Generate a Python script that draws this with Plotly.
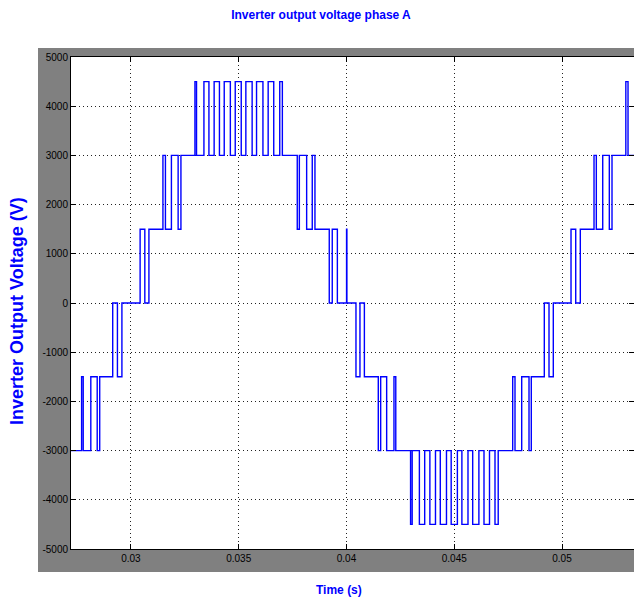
import plotly.graph_objects as go

# ---- data ----
t_start = 0.02722
t_end = 0.05334
initial_level = -3000

switch_times = [
    0.027712, 0.027787, 0.028139, 0.028436, 0.028552,
    0.029155, 0.029374, 0.029582,
    0.030427, 0.030645, 0.030835,
    0.031485, 0.031601, 0.031879, 0.032190, 0.032320,
    0.032970, 0.033044, 0.033387, 0.033619, 0.033861, 0.034107,
    0.034329, 0.034613, 0.034840, 0.035118, 0.035332, 0.035624,
    0.035828, 0.036125, 0.036367, 0.036626, 0.036905, 0.037026,
    0.037717, 0.037814, 0.038153, 0.038413, 0.038538,
    0.039202, 0.039341, 0.039578, 0.040005, 0.040020,
    0.040441, 0.040626, 0.040831,
    0.041476, 0.041587, 0.041865, 0.042204, 0.042288,
    0.042974, 0.043049, 0.043383, 0.043629, 0.043870, 0.044130,
    0.044353, 0.044640, 0.044858, 0.045146, 0.045355, 0.045638,
    0.045856, 0.046144, 0.046381, 0.046636, 0.046891, 0.047040,
    0.047712, 0.047819, 0.048130, 0.048469, 0.048575,
    0.049179, 0.049397, 0.049596,
    0.050418, 0.050636, 0.050849,
    0.051485, 0.051592, 0.051889, 0.052195, 0.052320,
    0.052961, 0.053063,
]
switch_levels = [
    -1500, -3000, -1500, -3000, -1500,
    0, -1500, 0,
    1500, 0, 1500,
    3000, 1500, 3000, 1500, 3000,
    4500, 3000, 4500, 3000, 4500, 3000,
    4500, 3000, 4500, 3000, 4500, 3000,
    4500, 3000, 4500, 3000, 4500, 3000,
    1500, 3000, 1500, 3000, 1500,
    0, 1500, 0, 1500, 0,
    -1500, 0, -1500,
    -3000, -1500, -3000, -1500, -3000,
    -4500, -3000, -4500, -3000, -4500, -3000,
    -4500, -3000, -4500, -3000, -4500, -3000,
    -4500, -3000, -4500, -3000, -4500, -3000,
    -1500, -3000, -1500, -3000, -1500,
    0, -1500, 0,
    1500, 0, 1500,
    3000, 1500, 3000, 1500, 3000,
    4500, 3000,
]

x_tick_vals = [0.03, 0.035, 0.04, 0.045, 0.05]
x_tick_text = ["0.03", "0.035", "0.04", "0.045", "0.05"]
y_tick_vals = [5000, 4000, 3000, 2000, 1000, 0, -1000, -2000, -3000, -4000, -5000]
y_tick_text = ["5000", "4000", "3000", "2000", "1000", "0", "-1000", "-2000", "-3000", "-4000", "-5000"]

title_text = "Inverter output voltage phase A"
x_title = "Time (s)"
y_title = "Inverter Output Voltage (V)"

# ---- figure ----
xs = [t_start] + switch_times + [t_end]
ys = [initial_level] + switch_levels + [switch_levels[-1]]

# page body has an 8px margin; figure coordinates = screen - 8
W, H = 634, 594
L, R, T, B = 63, 8, 49, 53
pw = W - L - R
ph = H - T - B
plot_bottom = H - B

fig = go.Figure()
fig.add_trace(go.Scatter(
    x=xs, y=ys, mode="lines", line_shape="hv",
    line=dict(color="#0000ff", width=1.4),
    hoverinfo="skip", showlegend=False,
))

blue = "#0000ff"
sans = "Liberation Sans, Arial, sans-serif"

# grey MATLAB-like frame and white axes area
gx0 = (30 - L) / pw
gx1 = (W - L) / pw
gy1 = 1 + (T - 40) / ph
gy0 = -(564 - plot_bottom) / ph

axis_common = dict(
    showline=True, linecolor="#000000", linewidth=1, mirror="ticks",
    ticks="inside", ticklen=5, tickcolor="#000000", tickwidth=1,
    showgrid=True, gridcolor="#222222", gridwidth=1, griddash="1px,3px",
    zeroline=False,
    tickfont=dict(family=sans, size=10, color="#000000"),
)

fig.update_layout(
    width=W, height=H, autosize=False,
    margin=dict(l=L, r=R, t=T, b=B),
    paper_bgcolor="#ffffff", plot_bgcolor="#ffffff",
    title=dict(text="<b>" + title_text + "</b>", x=313 / W, xanchor="center",
               y=1 - 7 / H, yanchor="middle",
               font=dict(family=sans, size=12, color=blue)),
    xaxis=dict(range=[t_start, t_end], tickvals=x_tick_vals, ticktext=x_tick_text, **axis_common),
    yaxis=dict(range=[-5000, 5000], tickvals=y_tick_vals, ticktext=y_tick_text, **axis_common),
    shapes=[
        dict(type="rect", xref="paper", yref="paper", x0=gx0, x1=gx1, y0=gy0, y1=gy1,
             fillcolor="#808080", line=dict(width=0), layer="below"),
        dict(type="rect", xref="paper", yref="paper", x0=0, x1=1, y0=0, y1=1,
             fillcolor="#ffffff", line=dict(width=0), layer="below"),
    ],
    annotations=[
        dict(text="<b>" + x_title + "</b>", xref="paper", yref="paper",
             x=(331 - L) / pw, y=-(582 - plot_bottom) / ph, xanchor="center", yanchor="middle",
             showarrow=False, font=dict(family=sans, size=12, color=blue)),
        dict(text="<b>" + y_title + "</b>", xref="paper", yref="paper",
             x=(9 - L) / pw, y=(plot_bottom - 303) / ph, xanchor="center", yanchor="middle",
             textangle=-90, showarrow=False,
             font=dict(family=sans, size=18, color=blue)),
    ],
)

fig.write_html("out.html")
